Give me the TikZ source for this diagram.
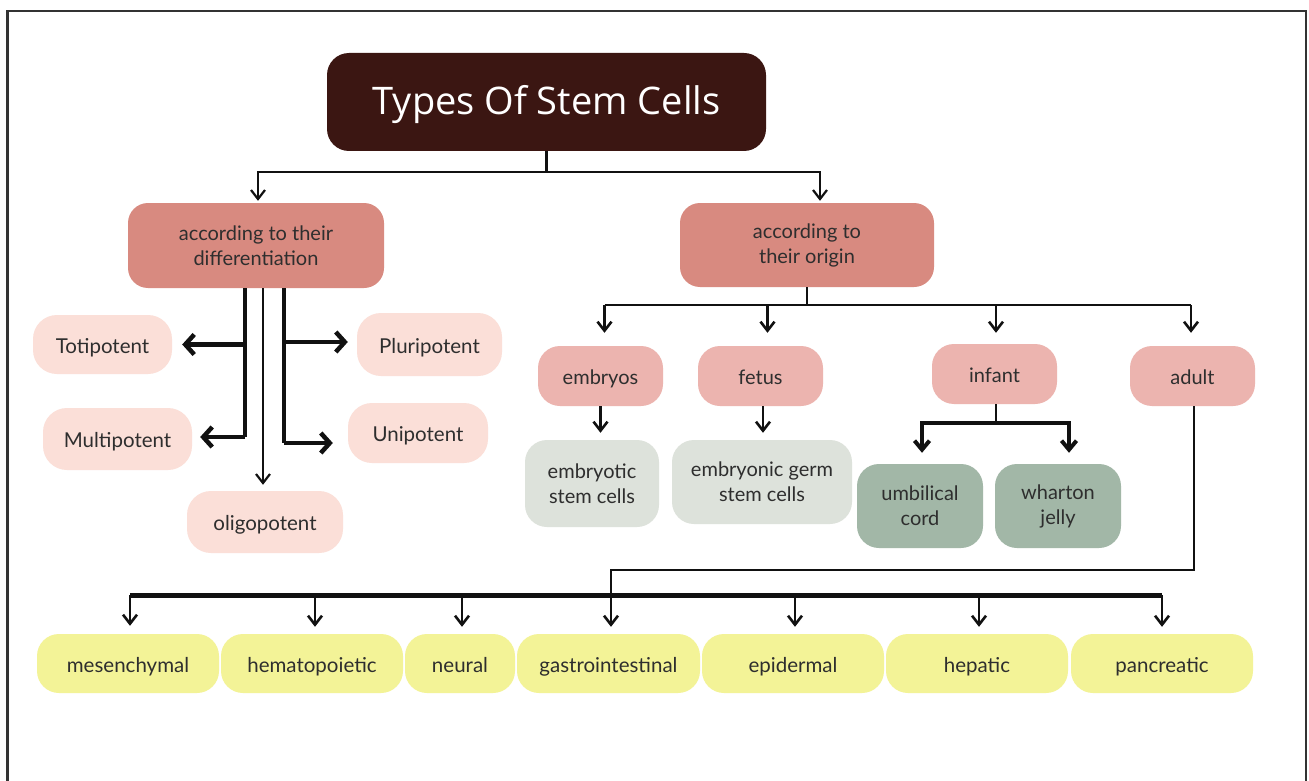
\documentclass[tikz,border=0pt]{standalone}
\usepackage{fontspec}
\setmainfont{Lato}
\newfontfamily\titlefont{Open Sans}
\usetikzlibrary{arrows.meta,calc}
\definecolor{titlebg}{HTML}{3B1612}
\definecolor{lvone}{HTML}{D88A80}
\definecolor{potc}{HTML}{FBDFD8}
\definecolor{agec}{HTML}{ECB4AF}
\definecolor{greyc}{HTML}{DDE2DB}
\definecolor{sagec}{HTML}{A2B7A7}
\definecolor{yelc}{HTML}{F3F397}
\definecolor{txtc}{HTML}{2E2E2E}
\definecolor{linec}{HTML}{111111}
\definecolor{framec}{HTML}{333333}
\tikzset{
  boxbase/.style={rectangle, rounded corners=20pt, inner sep=0pt, align=center,
    text=txtc, font=\fontsize{20}{25}\selectfont},
  oneline/.style={text height=17pt, text depth=0pt},
  titlebox/.style={boxbase, fill=titlebg, text=white, rounded corners=22pt,
    font=\titlefont\fontsize{38}{44}\selectfont, text height=26pt, text depth=0pt},
  lvbox/.style={boxbase, fill=lvone},
  potbox/.style={boxbase, oneline, fill=potc, rounded corners=24pt,
    font=\fontsize{20.5}{25}\selectfont},
  agebox/.style={boxbase, oneline, fill=agec, rounded corners=22pt},
  greybox/.style={boxbase, fill=greyc, rounded corners=22pt},
  sagebox/.style={boxbase, fill=sagec, rounded corners=22pt},
  yelbox/.style={boxbase, oneline, fill=yelc, rounded corners=22pt,
    font=\fontsize{20.5}{25}\selectfont},
  thinline/.style={draw=linec, line width=2.2pt},
  medline/.style={draw=linec, line width=2.6pt},
  thickline/.style={draw=linec, line width=4.5pt},
  infline/.style={draw=linec, line width=4pt},
  busline/.style={draw=linec, line width=5pt},
  arrthin/.style={thinline, -{Straight Barb[length=9pt,width=14pt]}},
  arrmed/.style={medline, -{Straight Barb[length=9pt,width=14pt]}},
  arrthick/.style={thickline, -{Straight Barb[length=9pt,width=20pt]}},
  arrinf/.style={infline, -{Straight Barb[length=9pt,width=15pt]}},
}
\begin{document}
\begin{tikzpicture}[x=1pt,y=-1pt]
\useasboundingbox (0,0) rectangle (1309,781);
\fill[white] (0,0) rectangle (1309,781);
\draw[framec, line width=2.5pt] (7.5,781) -- (7.5,11) -- (1306,11) -- (1306,781);

% nodes
\node[titlebox, minimum width=439pt, minimum height=98pt] (title) at (546.5,102) {Types Of Stem Cells};
\node[lvbox, minimum width=256pt, minimum height=85pt] (diff) at (256,245.5) {according to their\\differentiation};
\node[lvbox, minimum width=254pt, minimum height=84pt] (orig) at (807,245) {according to\\their origin};

\node[potbox, minimum width=139pt, minimum height=59pt] (toti) at (102.5,344.5) {Totipotent};
\node[potbox, minimum width=145pt, minimum height=63pt] (pluri) at (429.5,344.5) {Pluripotent};
\node[potbox, minimum width=149pt, minimum height=62pt] (multi) at (117.5,439) {Multipotent};
\node[potbox, minimum width=140pt, minimum height=60pt] (uni) at (418,433) {Unipotent};
\node[potbox, minimum width=156pt, minimum height=62pt] (oligo) at (265,522) {oligopotent};

\node[agebox, minimum width=125pt, minimum height=60pt] (embryos) at (600.5,376) {embryos};
\node[agebox, minimum width=125pt, minimum height=60pt] (fetus) at (760.5,376) {fetus};
\node[agebox, minimum width=125pt, minimum height=60pt] (infant) at (994.5,374) {infant};
\node[agebox, minimum width=125pt, minimum height=60pt] (adult) at (1192.5,376) {adult};

\node[greybox, minimum width=134pt, minimum height=87pt] (embryotic) at (592,483.5) {embryotic\\stem cells};
\node[greybox, minimum width=180pt, minimum height=84pt] (germ) at (762,482) {embryonic germ\\stem cells};
\node[sagebox, minimum width=126pt, minimum height=84pt] (umb) at (920,506) {umbilical\\cord};
\node[sagebox, minimum width=126pt, minimum height=84pt] (whar) at (1058,506) {wharton\\jelly};

\node[yelbox, minimum width=182pt, minimum height=59pt] (mes) at (128,663.5) {mesenchymal};
\node[yelbox, minimum width=182pt, minimum height=59pt] (hema) at (312,663.5) {hematopoietic};
\node[yelbox, minimum width=110pt, minimum height=59pt] (neural) at (460,663.5) {neural};
\node[yelbox, minimum width=183pt, minimum height=59pt] (gastro) at (608.5,663.5) {gastrointestinal};
\node[yelbox, minimum width=182pt, minimum height=59pt] (epi) at (793,663.5) {epidermal};
\node[yelbox, minimum width=182pt, minimum height=59pt] (hep) at (977,663.5) {hepatic};
\node[yelbox, minimum width=182pt, minimum height=59pt] (pan) at (1162,663.5) {pancreatic};

% connector coordinates
\coordinate (busA) at (0,172);
\coordinate (busB) at (0,305);
\coordinate (busI) at (0,423);
\coordinate (busAd) at (0,570);
\coordinate (busC) at (0,595);

% title to level one
\draw[thinline] (title.south) -- (title.south |- busA);
\draw[arrthin, shorten >=2pt] (title.south |- busA) -| ([xshift=2pt]diff.north);
\draw[arrthin, shorten >=2pt] (title.south |- busA) -| ([xshift=13pt]orig.north);

% differentiation branch
\draw[thickline] ([xshift=-11pt]diff.south) -- ([xshift=-11pt,yshift=2pt]diff.south |- multi.east);
\draw[arrthick, shorten >=10pt] ([xshift=-11pt]diff.south |- toti.east) -- (toti.east);
\draw[arrthick, shorten >=8pt] ([xshift=-11pt,yshift=2pt]diff.south |- multi.east) -- ([yshift=2pt]multi.east);
\draw[thickline] ([xshift=28pt]diff.south) -- ([xshift=28pt,yshift=-10pt]diff.south |- uni.west);
\draw[arrthick, shorten >=9pt] ([xshift=28pt,yshift=2.5pt]diff.south |- pluri.west) -- ([yshift=2.5pt]pluri.west);
\draw[arrthick, shorten >=15pt] ([xshift=28pt,yshift=-10pt]diff.south |- uni.west) -- ([yshift=-10pt]uni.west);
\draw[arrthin, shorten >=6pt] ([xshift=7pt]diff.south) -- ([xshift=7pt]diff.south |- oligo.north);

% origin branch
\draw[medline] (orig.south) -- (orig.south |- busB);
\draw[medline] ([xshift=4pt]embryos.north |- busB) -- ([xshift=-1.5pt]adult.north |- busB);
\draw[arrmed, shorten >=13pt] ([xshift=4pt]embryos.north |- busB) -- ([xshift=4pt]embryos.north);
\draw[arrmed, shorten >=13pt] ([xshift=7pt]fetus.north |- busB) -- ([xshift=7pt]fetus.north);
\draw[arrmed, shorten >=11pt] ([xshift=1.5pt]infant.north |- busB) -- ([xshift=1.5pt]infant.north);
\draw[arrmed, shorten >=13pt] ([xshift=-1.5pt]adult.north |- busB) -- ([xshift=-1.5pt]adult.north);

\draw[arrmed, shorten >=7pt] (embryos.south) -- (embryos.south |- embryotic.north);
\draw[arrmed, shorten >=7pt] ([xshift=2.5pt]fetus.south) -- ([xshift=2.5pt]fetus.south |- germ.north);

% infant branch
\draw[medline] ([xshift=1.5pt]infant.south) -- ([xshift=1.5pt]infant.south |- busI);
\draw[arrinf, shorten >=11pt] ([xshift=1.5pt]infant.south |- busI) -| ([xshift=2pt]umb.north);
\draw[arrinf, shorten >=11pt] ([xshift=1.5pt]infant.south |- busI) -| ([xshift=11pt]whar.north);

% adult branch
\draw[arrmed, shorten >=7pt] ([xshift=1.5pt]adult.south) |- ([xshift=2.5pt]gastro.north |- busAd) -- ([xshift=2.5pt]gastro.north);

% bottom bus
\draw[busline] ([xshift=2pt]mes.north |- busC) -- (pan.north |- busC);
\draw[arrmed, shorten >=8pt] ([xshift=2pt]mes.north |- busC) -- ([xshift=2pt]mes.north);
\draw[arrmed, shorten >=7pt] ([xshift=3pt]hema.north |- busC) -- ([xshift=3pt]hema.north);
\draw[arrmed, shorten >=7pt] ([xshift=2pt]neural.north |- busC) -- ([xshift=2pt]neural.north);
\draw[arrmed, shorten >=7pt] ([xshift=2pt]epi.north |- busC) -- ([xshift=2pt]epi.north);
\draw[arrmed, shorten >=7pt] ([xshift=2pt]hep.north |- busC) -- ([xshift=2pt]hep.north);
\draw[arrmed, shorten >=7pt] (pan.north |- busC) -- (pan.north);
\end{tikzpicture}
\end{document}
